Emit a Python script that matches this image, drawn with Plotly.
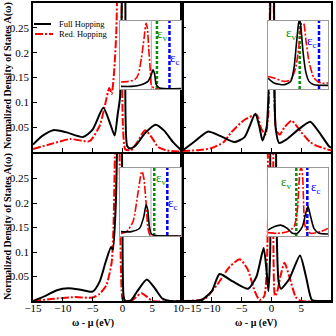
import plotly.graph_objects as go

# ---- main panels: omega - mu (eV) vs normalized DOS ----
# top left
tl_full_x = [-15, -13.5, -11.6, -9.5, -6.6, -5, -3.2, -2, -1.3, -0.8, -0.4, -0.1, 0.2, 0.5, 0.8, 1.3, 2.3, 3.8, 5.6, 7, 8.5, 10]
tl_full_y = [0.015, 0.032, 0.044, 0.040, 0.030, 0.045, 0.089, 0.055, 0.033, 0.075, 0.11, 0.3, 0.6, 0.3, 0.012, 0.007, 0.014, 0.038, 0.055, 0.043, 0.02, 0.002]
tl_red_x = [-15, -12, -8.8, -5.5, -3.8, -3, -2.2, -1.8, -1.4, -1.0, -0.6, -0.4, -0.2, 0.1, 0.5, 1.5, 2.5, 3.8, 5, 6, 7.5, 10]
tl_red_y = [0.006, 0.016, 0.026, 0.022, 0.053, 0.09, 0.129, 0.117, 0.16, 0.25, 0.6, 0.9, 0.5, 0.05, 0.005, 0.004, 0.02, 0.044, 0.028, 0.01, 0.003, 0.001]

# top right
tr_full_x = [-15, -13, -10.7, -8.5, -6.2, -4.5, -2.7, -2, -1.5, -0.8, -0.3, 0.1, 0.4, 0.7, 1.3, 2.5, 4.5, 6.5, 8, 9.7, 10]
tr_full_y = [0.002, 0.02, 0.041, 0.032, 0.020, 0.03, 0.077, 0.05, 0.023, 0.05, 0.2, 0.6, 0.5, 0.05, 0.018, 0.025, 0.045, 0.061, 0.04, 0.011, 0.009]
tr_red_x = [-15, -12, -10, -8, -6.7, -4.5, -2.5, -1.7, -1.0, -0.5, -0.2, 0.1, 0.4, 0.8, 1.4, 2.2, 3.4, 5, 6.5, 7.5, 10]
tr_red_y = [0.002, 0.004, 0.008, 0.02, 0.04, 0.065, 0.075, 0.047, 0.035, 0.08, 0.4, 0.9, 0.3, 0.045, 0.035, 0.05, 0.063, 0.04, 0.02, 0.013, 0.003]

# bottom left
bl_full_x = [-15, -13, -11, -9.1, -7, -5, -3.8, -2.8, -1.9, -1.6, -1.1, -0.7, -0.3, 0.0, 0.2, 0.5, 1.5, 2.5, 4.1, 5.5, 6.7, 8, 10]
bl_full_y = [0.0, 0.01, 0.022, 0.026, 0.023, 0.019, 0.04, 0.08, 0.11, 0.105, 0.2, 0.45, 0.6, 0.2, 0.01, 0.0, 0.002, 0.02, 0.044, 0.025, 0.005, 0.0, 0.0]
bl_red_x = [-15, -12, -8, -5, -3.8, -2.7, -1.8, -1.5, -1.2, -0.9, -0.6, -0.3, 0.0, 0.3, 1.5, 2.3, 3.2, 4.2, 5, 10]
bl_red_y = [0.0, 0.004, 0.008, 0.007, 0.015, 0.032, 0.079, 0.15, 0.35, 0.7, 0.5, 0.1, 0.005, 0.0, 0.0, 0.008, 0.016, 0.008, 0.0, 0.0]

# bottom right
br_full_x = [-15, -13, -11.7, -10, -8.7, -6.5, -3.9, -2.5, -1.3, -0.8, -0.5, -0.2, 0.2, 0.5, 0.8, 1.2, 1.6, 3, 4.8, 5.8, 6.8, 8, 10]
br_full_y = [0.0, 0.0, 0.002, 0.02, 0.055, 0.04, 0.025, 0.05, 0.108, 0.06, 0.02, 0.1, 0.6, 0.6, 0.2, 0.04, 0.025, 0.045, 0.093, 0.05, 0.002, 0.0, 0.0]
br_red_x = [-15, -12, -11, -9, -7, -5.3, -4, -2.8, -2, -1.2, -0.6, -0.3, 0.0, 0.3, 0.6, 1.0, 1.5, 2.2, 3.0, 4.1, 5, 10]
br_red_y = [0.0, 0.002, 0.006, 0.035, 0.07, 0.085, 0.065, 0.02, 0.002, 0.01, 0.15, 0.6, 0.6, 0.15, 0.01, 0.02, 0.05, 0.078, 0.05, 0.008, 0.0, 0.0]

# ---- insets (zoom around the gap, arbitrary units) ----
in_tl_full_x = [-0.968, -0.622, -0.297, -0.081, 0.027, 0.081, 0.135, 0.189, 0.297, 1.0]
in_tl_full_y = [0.039, 0.039, 0.063, 0.112, 0.21, 0.283, 0.22, 0.063, 0.015, 0.005]
in_tl_red_x = [-0.968, -0.730, -0.514, -0.405, -0.297, -0.211, -0.146, -0.103, -0.059, -0.005, 0.027, 0.135, 1.0]
in_tl_red_y = [0.102, 0.112, 0.137, 0.21, 0.454, 0.746, 0.966, 0.893, 0.60, 0.259, 0.063, 0.005, 0.0]

in_tr_full_x = [-1, -0.8, -0.467, -0.244, -0.133, -0.056, 0.011, 0.044, 0.089, 0.167, 0.256, 0.367, 0.533, 1.0]
in_tr_full_y = [0.161, 0.088, 0.063, 0.112, 0.307, 0.649, 0.941, 1.02, 0.941, 0.551, 0.259, 0.112, 0.063, 0.054]
in_tr_red_x = [-1, -0.8, -0.467, -0.244, -0.078, 0.033, 0.122, 0.189, 0.256, 0.367, 0.533, 0.756, 1.0]
in_tr_red_y = [0.185, 0.161, 0.112, 0.137, 0.307, 0.649, 0.966, 0.966, 0.746, 0.405, 0.161, 0.088, 0.088]

in_bl_full_x = [-0.968, -0.626, -0.358, -0.219, -0.144, -0.091, -0.037, 0.016, 0.123, 1.0]
in_bl_full_y = [0.064, 0.064, 0.113, 0.286, 0.458, 0.384, 0.138, 0.039, 0.01, 0.0]
in_bl_red_x = [-0.968, -0.786, -0.572, -0.412, -0.305, -0.273, -0.219, -0.144, -0.091, -0.037, 0.016, 1.0]
in_bl_red_y = [0.039, 0.064, 0.212, 0.631, 0.926, 0.951, 0.852, 0.483, 0.138, 0.03, 0.0, 0.0]

in_br_full_x = [-1, -0.8, -0.578, -0.356, -0.189, -0.022, 0.144, 0.256, 0.333, 0.422, 0.533, 0.7, 1.0]
in_br_full_y = [0.087, 0.136, 0.160, 0.112, 0.039, 0.039, 0.136, 0.330, 0.437, 0.282, 0.112, 0.039, 0.029]
in_br_red_x = [-1, -0.689, -0.356, -0.133, -0.022, 0.033, 0.067, 0.111, 0.156, 0.2, 0.256, 0.422, 0.756, 1.0]
in_br_red_y = [0.049, 0.039, 0.063, 0.136, 0.379, 0.767, 0.961, 1.01, 0.864, 0.330, 0.112, 0.039, 0.063, 0.112]

# valence / conduction band edges and the thin reference line in each inset
ev_pos = [0.211, 0.056, 0.123, -0.056]
ec_pos = [0.622, 0.7, 0.551, 0.311]
ref_pos = [0.027, None, 0.016, None]
ev_label = [(0.373, 0.795), (-0.244, 0.82), (0.337, 0.842), (-0.411, 0.78)]
ec_label = [(0.805, 0.454), (0.478, 0.70), (0.733, 0.473), (0.589, 0.72)]

FONT = "Liberation Serif"
W = H = 336


def px(p):
    return p / W


def py(p):
    return 1 - p / H


fig = go.Figure()

main = [
    (tl_full_x, tl_full_y, tl_red_x, tl_red_y),
    (tr_full_x, tr_full_y, tr_red_x, tr_red_y),
    (bl_full_x, bl_full_y, bl_red_x, bl_red_y),
    (br_full_x, br_full_y, br_red_x, br_red_y),
]
insets = [
    (in_tl_full_x, in_tl_full_y, in_tl_red_x, in_tl_red_y),
    (in_tr_full_x, in_tr_full_y, in_tr_red_x, in_tr_red_y),
    (in_bl_full_x, in_bl_full_y, in_bl_red_x, in_bl_red_y),
    (in_br_full_x, in_br_full_y, in_br_red_x, in_br_red_y),
]

RED_DASH = "8px,2px,2px,2px"

for i, (fx, fy, rx, ry) in enumerate(main):
    n = "" if i == 0 else str(i + 1)
    fig.add_trace(go.Scatter(x=rx, y=ry, mode="lines", line=dict(color="red", width=2, dash=RED_DASH, shape="spline", smoothing=0.6),
                             xaxis="x" + n, yaxis="y" + n, showlegend=False))
    fig.add_trace(go.Scatter(x=fx, y=fy, mode="lines", line=dict(color="black", width=2, shape="spline", smoothing=0.6),
                             xaxis="x" + n, yaxis="y" + n, showlegend=False))

for i, (fx, fy, rx, ry) in enumerate(insets):
    n = str(i + 5)
    if ref_pos[i] is not None:
        fig.add_trace(go.Scatter(x=[ref_pos[i], ref_pos[i]], y=[0, 1], mode="lines", line=dict(color="#aaaaaa", width=1),
                                 xaxis="x" + n, yaxis="y" + n, showlegend=False))
    fig.add_trace(go.Scatter(x=[ev_pos[i], ev_pos[i]], y=[0, 1], mode="lines", line=dict(color="#009000", width=2.5, dash="3px,2px"),
                             xaxis="x" + n, yaxis="y" + n, showlegend=False))
    fig.add_trace(go.Scatter(x=[ec_pos[i], ec_pos[i]], y=[0, 1], mode="lines", line=dict(color="blue", width=2.5, dash="4px,2px"),
                             xaxis="x" + n, yaxis="y" + n, showlegend=False))
    fig.add_trace(go.Scatter(x=rx, y=ry, mode="lines", line=dict(color="red", width=1.6, dash=RED_DASH, shape="spline", smoothing=0.6),
                             xaxis="x" + n, yaxis="y" + n, showlegend=False))
    fig.add_trace(go.Scatter(x=fx, y=fy, mode="lines", line=dict(color="black", width=1.6, shape="spline", smoothing=0.6),
                             xaxis="x" + n, yaxis="y" + n, showlegend=False))

cols = [[px(33), px(182)], [px(182), px(331)]]
rows = [[py(152), py(3)], [py(301), py(154)]]
in_cols = [[px(120), px(181)], [px(268), px(328)]]
in_rows = [[py(89), py(21)], [py(236), py(168)]]

xt = [-15, -10, -5, 0, 5, 10]
yt = [0.05, 0.1, 0.15, 0.2, 0.25]
tickfont = dict(family=FONT, size=11, color="black")

layout = dict(width=W, height=H, margin=dict(l=0, r=0, t=0, b=0), autosize=False,
              paper_bgcolor="white", plot_bgcolor="white", showlegend=False)

for i in range(4):
    n = "" if i == 0 else str(i + 1)
    r, c = divmod(i, 2)
    bottom = r == 1
    xtext = ["\u221215", "\u221210", "\u22125", "0", "5", "10"]
    if bottom and c == 0:
        xtext[-1] = " "
    if bottom and c == 1:
        xtext[0] = " "
    layout["xaxis" + n] = dict(domain=cols[c], anchor="y" + n, range=[-15, 10], tickvals=xt, ticktext=xtext,
                               showticklabels=bottom, ticks="inside", ticklen=4, tickcolor="black",
                               ticklabelstandoff=-4,
                               showline=True, mirror=True, linecolor="black", linewidth=1.6, automargin=False,
                               showgrid=False, zeroline=False, tickfont=tickfont)
    layout["yaxis" + n] = dict(domain=rows[r], anchor="x" + n, range=[0, 0.3], tickvals=yt,
                               ticktext=["0.05", "0.1", "0.15", "0.2", "0.25"],
                               showticklabels=(c == 0), ticks="inside", ticklen=4, tickcolor="black",
                               showline=True, mirror=True, linecolor="black", linewidth=1.6, automargin=False,
                               showgrid=False, zeroline=False, tickfont=tickfont)

for i in range(4):
    n = str(i + 5)
    r, c = divmod(i, 2)
    layout["xaxis" + n] = dict(domain=in_cols[c], anchor="y" + n, range=[-1, 1], showticklabels=False, ticks="",
                               showline=True, mirror=True, linecolor="#999999", linewidth=1, automargin=False,
                               showgrid=False, zeroline=False)
    layout["yaxis" + n] = dict(domain=in_rows[r], anchor="x" + n, range=[0, 1], showticklabels=False, ticks="",
                               showline=True, mirror=True, linecolor="#999999", linewidth=1, automargin=False,
                               showgrid=False, zeroline=False)

fig.update_layout(**layout)

ann = []
for i in range(4):
    n = str(i + 5)
    ann.append(dict(x=ev_label[i][0], y=ev_label[i][1], xref="x" + n, yref="y" + n, text="\u03b5<sub>v</sub>",
                    xanchor="center", yanchor="middle",
                    showarrow=False, font=dict(family=FONT, size=13, color="#009000")))
    ann.append(dict(x=ec_label[i][0], y=ec_label[i][1], xref="x" + n, yref="y" + n, text="\u03b5<sub>c</sub>",
                    xanchor="center", yanchor="middle",
                    showarrow=False, font=dict(family=FONT, size=13, color="blue")))

# axis titles
for yc in [py(76), py(227)]:
    ann.append(dict(x=px(8), y=yc, xref="paper", yref="paper", text="<b>Normalized Density of States A(\u03c9)</b>",
                    textangle=-90, xanchor="center", yanchor="middle",
                    showarrow=False, font=dict(family=FONT, size=10, color="black")))
for xc in [px(93), px(256)]:
    ann.append(dict(x=xc, y=py(323), xref="paper", yref="paper", text="<b>\u03c9 - \u03bc (eV)</b>",
                    xanchor="center", yanchor="middle",
                    showarrow=False, font=dict(family=FONT, size=10, color="black")))
ann.append(dict(x=px(187), y=py(308), xref="paper", yref="paper", text="10\u221215",
                xanchor="center", yanchor="middle", showarrow=False, font=tickfont))

# legend
ann.append(dict(x=px(57), y=py(24), xref="paper", yref="paper", text="Full Hopping", xanchor="left", yanchor="middle",
                showarrow=False, font=dict(family=FONT, size=8.5, color="black")))
ann.append(dict(x=px(57), y=py(34), xref="paper", yref="paper", text="Red. Hopping", xanchor="left", yanchor="middle",
                showarrow=False, font=dict(family=FONT, size=8.5, color="black")))
fig.update_layout(annotations=ann, shapes=[
    dict(type="line", xref="paper", yref="paper", x0=px(34), x1=px(51), y0=py(24), y1=py(24), line=dict(color="black", width=2)),
    dict(type="line", xref="paper", yref="paper", x0=px(35), x1=px(53), y0=py(34), y1=py(34), line=dict(color="red", width=2, dash=RED_DASH)),
])

fig.write_html("out.html", config={"displayModeBar": False},
               post_script="document.body.style.margin='0px';document.body.style.overflow='hidden';")
